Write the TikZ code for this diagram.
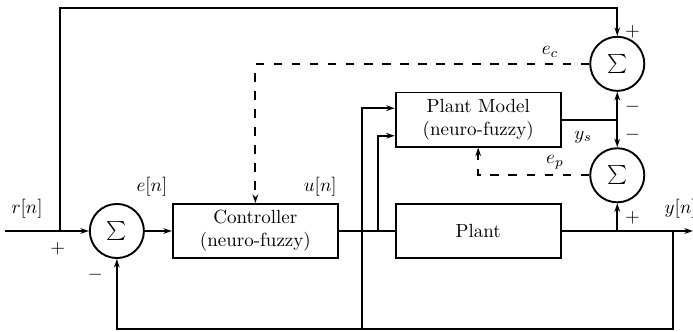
\documentclass[tikz,border=0pt]{standalone}
\usepackage{tikz}
\usepackage{amsmath}
\usetikzlibrary{arrows.meta, positioning}

\begin{document}
\begin{tikzpicture}[line width=1pt, >={Stealth[length=4.5pt,width=3pt]}]

	\tikzset{
		block/.style={
				rectangle, draw, line width=1pt, minimum width=3.05cm, minimum height=1cm, inner sep=0pt, align=center
			},
		summer/.style={
				circle, draw, line width=1pt, minimum size=1cm, inner sep=0pt
			},
		adapt/.style={
				dash pattern=on 4.5pt off 5pt
			},
	}
	\useasboundingbox (0,0) rectangle (12.81,6.12);

	\node[summer](s0) at (2.16,1.85){$\sum$};
	\node[block](ctrl) at (4.72,1.85){Controller\\(neuro-fuzzy)};
	\node[block](plant) at (8.84,1.85){Plant};
	\node[block](model) at (8.84,3.91){Plant Model\\(neuro-fuzzy)};
	\node[summer](s1) at (11.41,4.94){$\sum$};
	\node[summer](s2) at (11.41,2.88){$\sum$};

	\coordinate (in) at (0.09,1.85);
	\coordinate (rsplit) at (1.11,1.85);
	\coordinate (rtop) at (1.11,5.97);
	\coordinate (usplit1) at (6.69,0.04);
	\coordinate (usplit2) at (6.99,1.85);
	\coordinate (ysplit) at (12.44,1.85);
	\coordinate (fb) at (12.44,0.04);
	\coordinate (yout) at (12.81,1.85);
	\coordinate (ys) at (model.east -| s1);

	\draw (in) -- (rsplit);
	\draw[->] (rsplit) -- (s0);
	\draw[->] (rsplit) -- (rtop) -| (s1);
	\draw[->] (s0) -- (ctrl);
	\draw (ctrl) -- (plant);
	\draw[->] (usplit1) |- ([yshift=0.21cm]model.west);
	\draw[->] (usplit2) |- ([yshift=-0.30cm]model.west);
	\draw[->] (plant) -- (yout);
	\draw[->] (ysplit) -- (fb) -| (s0);
	\draw[->] (plant.east -| s2) -- (s2);
	\draw (model) -- (ys);
	\draw[->] (ys) -- (s1);
	\draw[->] (ys) -- (s2);
	\draw[adapt, ->] (s1) -| (ctrl);
	\draw[adapt, ->] (s2) -| (model);

	\node(rlab) at (0.50,2.27){$r[n]$};
	\node(elab) at (2.81,2.66){$e[n]$};
	\node(ulab) at (5.92,2.66){$u[n]$};
	\node[anchor=west, inner sep=0pt](ylab) at (12.27,2.26){$y[n]$};
	\node(eclab) at (10.17,5.16){$e_c$};
	\node(eplab) at (10.26,3.12){$e_p$};
	\node(yslab) at (10.78,3.59){$y_s$};
	\node(p0) at (1.07,1.53){$+$};
	\node(m0) at (1.76,1.04){$-$};
	\node(p1) at (11.69,5.53){$+$};
	\node(m1) at (11.69,4.14){$-$};
	\node(m2) at (11.69,3.62){$-$};
	\node(p2) at (11.69,2.09){$+$};

\end{tikzpicture}
\end{document}
